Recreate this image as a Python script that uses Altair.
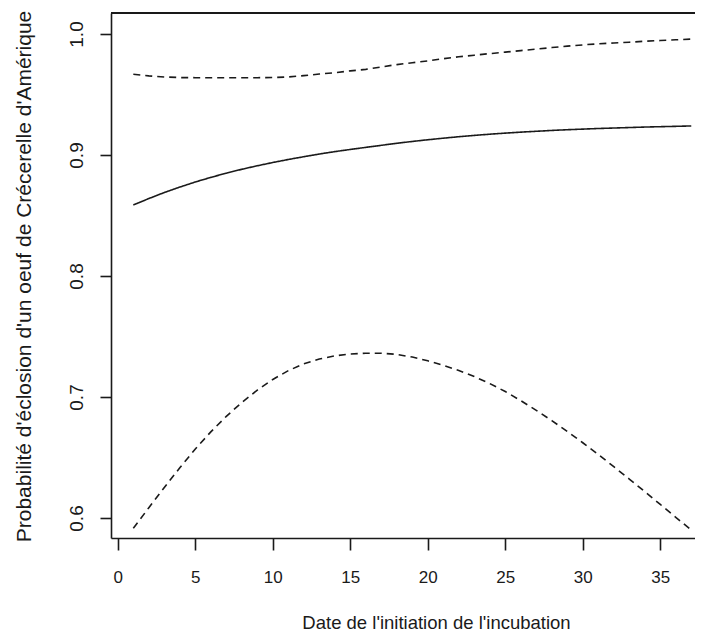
import altair as alt
import pandas as pd

# Date de l'initiation de l'incubation
x_vals = list(range(1, 38))

# Probabilité estimée (courbe pleine)
mean_vals = [0.8587, 0.8640, 0.8690, 0.8735, 0.8777, 0.8815, 0.8850, 0.8882, 0.8911, 0.8938,
             0.8963, 0.8986, 0.9008, 0.9028, 0.9046, 0.9063, 0.9080, 0.9097, 0.9112, 0.9126,
             0.9139, 0.9151, 0.9162, 0.9172, 0.9181, 0.9189, 0.9196, 0.9203, 0.9209, 0.9214,
             0.9219, 0.9223, 0.9227, 0.9231, 0.9234, 0.9237, 0.9240]

# Borne inférieure (tirets)
lower_vals = [0.5915, 0.6085, 0.6252, 0.6415, 0.6570, 0.6712, 0.6840, 0.6955, 0.7057, 0.7145,
              0.7218, 0.7274, 0.7314, 0.7340, 0.7355, 0.7362, 0.7362, 0.7352, 0.7330, 0.7299,
              0.7262, 0.7219, 0.7169, 0.7111, 0.7045, 0.6970, 0.6890, 0.6805, 0.6715, 0.6622,
              0.6525, 0.6424, 0.6322, 0.6218, 0.6112, 0.6006, 0.5900]

# Borne supérieure (tirets)
upper_vals = [0.9667, 0.9654, 0.9645, 0.9640, 0.9639, 0.9639, 0.9639, 0.9639, 0.9639, 0.9640,
              0.9645, 0.9656, 0.9669, 0.9680, 0.9695, 0.9708, 0.9728, 0.9747, 0.9763, 0.9778,
              0.9796, 0.9812, 0.9825, 0.9838, 0.9850, 0.9863, 0.9875, 0.9888, 0.9900, 0.9910,
              0.9919, 0.9926, 0.9932, 0.9940, 0.9946, 0.9952, 0.9958]

series_names = ["Estimation", "Borne inférieure", "Borne supérieure"]
x_ticks = [0, 5, 10, 15, 20, 25, 30, 35]
y_ticks = [0.6, 0.7, 0.8, 0.9, 1.0]

rows = []
for name, vals in zip(series_names, [mean_vals, lower_vals, upper_vals]):
    for xv, yv in zip(x_vals, vals):
        rows.append({"x": xv, "p": yv, "serie": name})
df = pd.DataFrame(rows)

W, H = 584, 525
FONT = "Liberation Sans"
INK = "#1a1a1a"

lines = alt.Chart(df).mark_line(strokeWidth=1.6, color=INK).encode(
    x=alt.X("x:Q",
            scale=alt.Scale(domain=[-0.44, 37.24], nice=False, zero=False),
            axis=alt.Axis(values=x_ticks, format="d",
                          title="Date de l'initiation de l'incubation",
                          tickSize=12, labelPadding=32, labelFontSize=17,
                          labelBaseline="alphabetic", labelFlush=False, labelOverlap=False,
                          titleFontSize=18.5, titleX=325, titleY=90,
                          titleAlign="center", titleBaseline="alphabetic")),
    y=alt.Y("p:Q",
            scale=alt.Scale(domain=[0.58347, 1.01736], nice=False, zero=False),
            axis=alt.Axis(values=y_ticks, format=".1f",
                          title="Probabilité d'éclosion d'un oeuf de Crécerelle d'Amérique",
                          tickSize=11, labelPadding=18, labelFontSize=19,
                          labelAngle=270, labelAlign="center", labelBaseline="alphabetic",
                          labelFlush=False, labelOverlap=False,
                          titleFontSize=21, titleAngle=270, titleX=-81, titleY=263,
                          titleAlign="center", titleBaseline="alphabetic")),
    strokeDash=alt.StrokeDash("serie:N",
                              scale=alt.Scale(domain=series_names,
                                              range=[[1, 0], [7, 5], [7, 5]]),
                              legend=None),
    detail="serie:N",
)

top_border = alt.Chart(df).mark_rule(color=INK, strokeWidth=1.6).encode(
    x=alt.value(0), x2=alt.value(W), y=alt.value(0)
)

chart = alt.layer(lines, top_border).properties(
    width=W, height=H,
    autosize=alt.AutoSizeParams(type="none"),
    padding={"left": 103, "top": 5, "right": 0, "bottom": 95},
    background="white",
).configure_view(strokeWidth=0).configure_axis(
    grid=False,
    domainColor=INK, domainWidth=1.6,
    tickColor=INK, tickWidth=1.6,
    labelColor=INK, titleColor=INK,
    labelFont=FONT, titleFont=FONT,
    titleFontWeight="normal",
)

chart.save("out.html", embed_options={"renderer": "svg", "actions": False})
